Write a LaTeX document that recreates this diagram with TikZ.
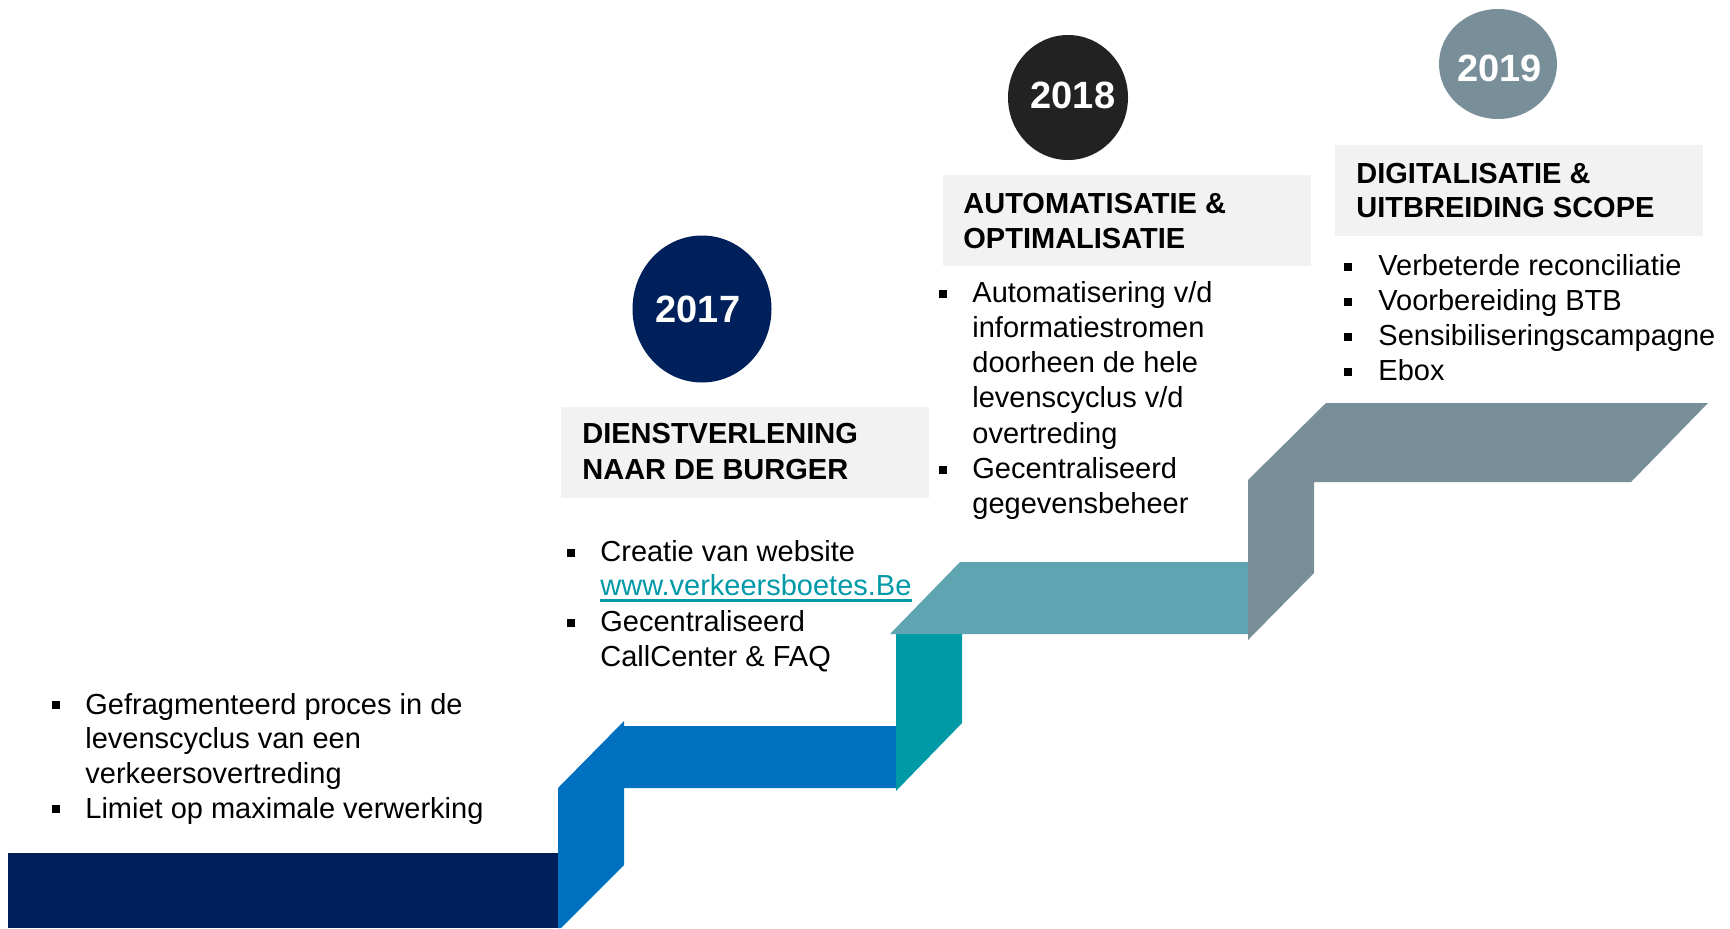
\documentclass[tikz,border=0pt]{standalone}
\usepackage{fontspec}
\setmainfont{Liberation Sans}
\usetikzlibrary{shapes.geometric}
\definecolor{cNavy}{HTML}{00205B}
\definecolor{cBlue}{HTML}{0070C0}
\definecolor{cTeal}{HTML}{009AA6}
\definecolor{cLTeal}{HTML}{5FA5B1}
\definecolor{cGray}{HTML}{788F9A}
\definecolor{cBlack}{HTML}{222222}
\definecolor{cBox}{HTML}{F2F2F2}
\definecolor{cLink}{HTML}{0099A8}
\tikzset{
  txt/.style={anchor=base west, inner sep=0pt, font=\fontsize{14.5}{17.5}\selectfont},
  ttl/.style={anchor=base west, inner sep=0pt, font=\bfseries\fontsize{14.5}{17.5}\selectfont},
  bul/.style={fill=black, inner sep=0pt, minimum size=4pt, anchor=center},
  year/.style={text=white, inner sep=0pt, font=\bfseries\fontsize{19}{22}\selectfont},
  disc/.style={ellipse, inner sep=0pt},
  hdbox/.style={fill=cBox, draw=none}
}
\begin{document}
\begin{tikzpicture}[x=0.5pt,y=-0.5pt]
\useasboundingbox (0,0) rectangle (1730,928);
% staircase
\fill[cNavy] (8,853) rectangle (558,928);
\fill[cBlue] (558,928) -- (558,788) -- (624,721) -- (624,726) -- (896,726) -- (896,788) -- (624,788) -- (624,865) -- (561,928) -- cycle;
\fill[cTeal] (896,791) -- (896,634) -- (962,634) -- (962,723) -- cycle;
\fill[cLTeal] (890,634) -- (960,562) -- (1248,562) -- (1248,634) -- cycle;
\fill[cGray] (1248,640) -- (1248,480) -- (1326,403) -- (1708,403) -- (1631,482) -- (1314,482) -- (1314,573) -- cycle;
% year discs
\node[disc, fill=cNavy, minimum width=69.5pt, minimum height=73.5pt] (c17) at (702,309) {};
\node[year] (y17) at (698,309) {2017};
\node[disc, fill=cBlack, minimum width=60pt, minimum height=62.5pt] (c18) at (1068,97.5) {};
\node[year] (y18) at (1073,95) {2018};
\node[disc, fill=cGray, minimum width=59pt, minimum height=55pt] (c19) at (1498,64) {};
\node[year] (y19) at (1499.5,68.5) {2019};
% heading boxes
\fill[hdbox] (561,407) rectangle (929,498);
\node[ttl] (h17a) at (582,443) {DIENSTVERLENING};
\node[ttl] (h17b) at (582,479) {NAAR DE BURGER};
\fill[hdbox] (943,175) rectangle (1311,266);
\node[ttl] (h18a) at (963,213) {AUTOMATISATIE \&};
\node[ttl] (h18b) at (963,248) {OPTIMALISATIE};
\fill[hdbox] (1335,145) rectangle (1703,236);
\node[ttl] (h19a) at (1356,183) {DIGITALISATIE \&};
\node[ttl] (h19b) at (1356,217) {UITBREIDING SCOPE};
% left list
\node[bul] (b0a) at (56,704.5) {};
\node[txt] (t0a) at (85,714) {Gefragmenteerd proces in de};
\node[txt] (t0b) at (85,748.7) {levenscyclus van een};
\node[txt] (t0c) at (85,783.4) {verkeersovertreding};
\node[bul] (b0b) at (56,808.6) {};
\node[txt] (t0d) at (85,818.1) {Limiet op maximale verwerking};
% 2017 list
\node[bul] (b1a) at (571,552.5) {};
\node[txt] (t1a) at (600,561) {Creatie van website};
\node[txt, text=cLink] (t1b) at (600,595) {www.verkeersboetes.Be};
\draw[cLink, line width=1.5pt] ([yshift=-2.6pt]t1b.base west) -- ([yshift=-2.6pt]t1b.base east);
\node[bul] (b1b) at (571,622.5) {};
\node[txt] (t1c) at (600,631) {Gecentraliseerd};
\node[txt] (t1d) at (600,666) {CallCenter \& FAQ};
% 2018 list
\node[bul] (b2a) at (943,293.5) {};
\node[txt] (t2a) at (972,302) {Automatisering v/d};
\node[txt] (t2b) at (972,337.3) {informatiestromen};
\node[txt] (t2c) at (972,372.6) {doorheen de hele};
\node[txt] (t2d) at (972,407.9) {levenscyclus v/d};
\node[txt] (t2e) at (972,443.2) {overtreding};
\node[bul] (b2b) at (943,470) {};
\node[txt] (t2f) at (972,478.5) {Gecentraliseerd};
\node[txt] (t2g) at (972,513.8) {gegevensbeheer};
% 2019 list
\node[bul] (b3a) at (1348,266.5) {};
\node[txt] (t3a) at (1378,275) {Verbeterde reconciliatie};
\node[bul] (b3b) at (1348,301.5) {};
\node[txt] (t3b) at (1378,310) {Voorbereiding BTB};
\node[bul] (b3c) at (1348,336.5) {};
\node[txt] (t3c) at (1378,345) {Sensibiliseringscampagne};
\node[bul] (b3d) at (1348,371.5) {};
\node[txt] (t3d) at (1378,380) {Ebox};
\end{tikzpicture}
\end{document}
